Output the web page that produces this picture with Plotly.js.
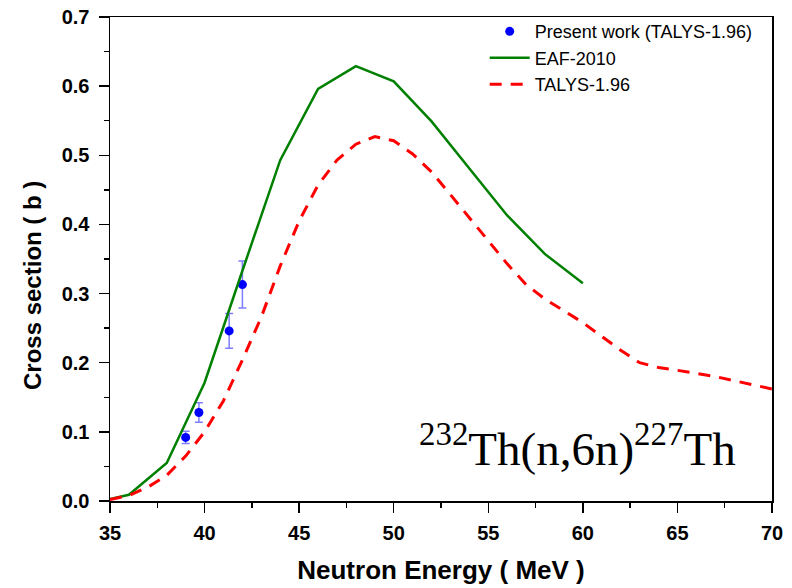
<!DOCTYPE html>
<html>
<head>
<meta charset="utf-8">
<script src="https://cdn.plot.ly/plotly-3.0.1.min.js"></script>
<style>html,body{margin:0;padding:0;background:#fff;}#chart{width:792px;height:588px;}</style>
</head>
<body>
<div id="chart"></div>
<script>
// Present work (TALYS-1.96) measured points
const expEnergy = [39.0, 39.7, 41.3, 42.0];
const expXs     = [0.092, 0.128, 0.246, 0.313];
const expErr    = [0.009, 0.014, 0.025, 0.034];

// EAF-2010
const eafEnergy = [35, 36, 38, 40, 42, 44, 46, 48, 50, 52, 54, 56, 58, 60];
const eafXs     = [0.003, 0.009, 0.055, 0.171, 0.333, 0.493, 0.596, 0.629, 0.607, 0.549, 0.481, 0.413, 0.357, 0.315];

// TALYS-1.96
const talysEnergy = [35, 36, 37, 38, 39, 40, 41, 42, 43, 44, 45, 46, 47, 48, 49, 50, 51, 52, 53, 54, 55, 56, 57, 58, 59, 60, 61, 62, 63, 64, 65, 66, 67, 68, 69, 70];
const talysXs     = [0.002, 0.008, 0.020, 0.037, 0.065, 0.100, 0.145, 0.204, 0.266, 0.340, 0.405, 0.457, 0.493, 0.516, 0.527, 0.521, 0.502, 0.476, 0.443, 0.410, 0.376, 0.343, 0.313, 0.292, 0.275, 0.258, 0.238, 0.218, 0.200, 0.193, 0.189, 0.185, 0.180, 0.174, 0.168, 0.162];

const xTicks = [35, 40, 45, 50, 55, 60, 65, 70];
const yTicks = [0.0, 0.1, 0.2, 0.3, 0.4, 0.5, 0.6, 0.7];

const traces = [
  {
    x: expEnergy, y: expXs, type: 'scatter', mode: 'markers',
    name: 'Present work (TALYS-1.96)',
    marker: {color: '#0000ff', size: 9, symbol: 'circle'},
    error_y: {type: 'data', array: expErr, visible: true, color: 'rgba(40,40,255,0.6)', thickness: 1.5, width: 4}
  },
  {
    x: eafEnergy, y: eafXs, type: 'scatter', mode: 'lines',
    name: 'EAF-2010',
    line: {color: '#008000', width: 2.5}
  },
  {
    x: talysEnergy, y: talysXs, type: 'scatter', mode: 'lines',
    name: 'TALYS-1.96',
    line: {color: '#ff0000', width: 3, dash: '12px,9px'}
  }
];

const tickFont = {family: 'Liberation Sans, Arial, sans-serif', size: 20, color: '#000'};
const titleFont = {family: 'Liberation Sans, Arial, sans-serif', size: 26, color: '#000'};

const layout = {
  width: 792, height: 588,
  margin: {l: 110, r: 20, t: 17, b: 87},
  paper_bgcolor: '#fff', plot_bgcolor: '#fff',
  showlegend: true,
  legend: {
    x: 0.566, y: 1.008, xanchor: 'left', yanchor: 'top',
    bgcolor: 'rgba(0,0,0,0)', borderwidth: 0,
    font: {family: 'Liberation Sans, Arial, sans-serif', size: 18, color: '#000'},
    tracegroupgap: 0, itemwidth: 40
  },
  xaxis: {
    range: [35, 70], tickvals: xTicks, ticktext: xTicks.map(v => '<b>' + v + '</b>'),
    showgrid: false, zeroline: false, showline: true, linecolor: '#000', linewidth: 1.5, mirror: true,
    ticks: 'outside', ticklen: 10, tickwidth: 1.5, tickcolor: '#000', ticklabelstandoff: 3,
    minor: {dtick: 2.5, tick0: 35, ticks: 'outside', ticklen: 5, tickwidth: 1.5, tickcolor: '#000', showgrid: false},
    tickfont: tickFont,
    title: {text: '<b>Neutron Energy ( MeV )</b>', font: titleFont, standoff: 18}
  },
  yaxis: {
    range: [0, 0.7], tickvals: yTicks, ticktext: yTicks.map(v => '<b>' + v.toFixed(1) + '</b>'),
    showgrid: false, zeroline: false, showline: true, linecolor: '#000', linewidth: 1.5, mirror: true,
    ticks: 'outside', ticklen: 10, tickwidth: 1.5, tickcolor: '#000', ticklabelstandoff: 5,
    minor: {dtick: 0.05, tick0: 0, ticks: 'outside', ticklen: 5, tickwidth: 1.5, tickcolor: '#000', showgrid: false},
    tickfont: tickFont,
    title: {text: ''}
  },
  annotations: [
    {
      xref: 'paper', yref: 'paper', x: -0.118, y: 0.446, xanchor: 'center', yanchor: 'middle',
      text: '<b>Cross section ( b )</b>', showarrow: false, textangle: -90,
      font: {family: 'Liberation Sans, Arial, sans-serif', size: 24, color: '#000'}
    },
    {
      xref: 'paper', yref: 'paper', x: 0.949, y: 0.05, xanchor: 'right', yanchor: 'bottom',
      text: '<sup>232</sup>Th(n,6n)<sup>227</sup>Th', showarrow: false,
      font: {family: 'Liberation Serif, Times New Roman, serif', size: 47, color: '#000'}
    }
  ]
};

Plotly.newPlot('chart', traces, layout, {displayModeBar: false, staticPlot: true});
</script>
</body>
</html>
